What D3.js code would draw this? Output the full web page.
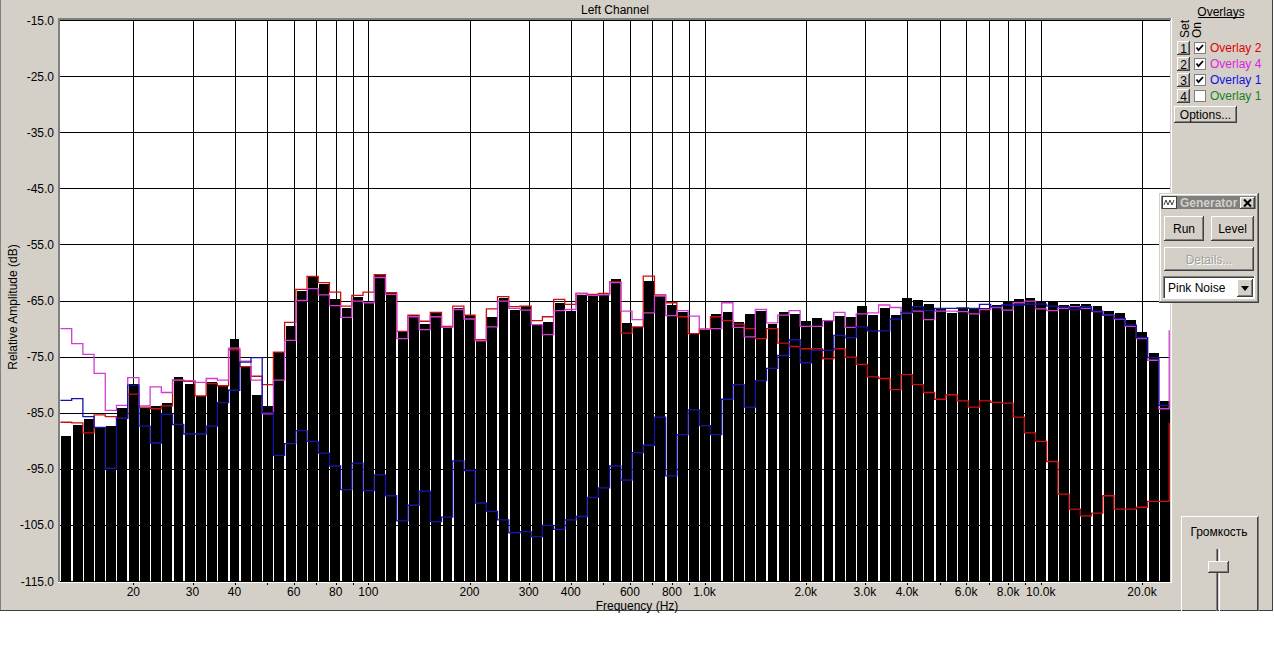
<!DOCTYPE html>
<html><head><meta charset="utf-8">
<script src="https://cdn.jsdelivr.net/npm/d3@7"></script>
<style>body{margin:0;background:#fff}svg{display:block}text{font-family:"Liberation Sans",Arial,sans-serif;font-size:12px}</style>
</head><body><svg id="c" width="1274" height="654"></svg>
<script>
// ---------- DATA ----------
// band centre frequencies (Hz), 1/30-decade bands
const bandFreqs = [12.62,13.63,14.71,15.89,17.15,18.52,
 20,21.6,23.32,25.18,27.19,29.36,31.7,34.23,36.96,39.91,43.09,46.53,50.24,54.25,58.57,63.25,68.29,73.74,79.62,85.97,92.83,100.2,108.2,116.9,126.2,136.3,147.1,158.9,171.5,185.2,
 200,216,233.2,251.8,271.9,293.6,317,342.3,369.6,399.1,430.9,465.3,502.4,542.5,585.7,632.5,682.9,737.4,796.2,859.7,928.3,1002,1082,1169,1262,1363,1471,1589,1715,1852,
 2000,2160,2332,2518,2719,2936,3170,3423,3696,3991,4309,4653,5024,5425,5857,6325,6829,7374,7962,8597,9283,10020,10820,11690,12620,13630,14710,15890,17150,18520,
 20000,21600,23320];
// measured spectrum (black bars), dB
const spectrum = [-89.2,-87.2,-86.2,-87.6,-87.4,-84.2,
 -79.8,-84.1,-83.8,-83.2,-78.6,-79.9,-82.0,-79.6,-80.2,-71.8,-76.8,-81.8,-83.8,-74.1,-69.5,-63.3,-60.8,-62.0,-64.8,-66.4,-64.3,-65.1,-60.5,-63.75,-70.6,-67.6,-69.2,-67.2,-69.9,-66.4,
 -67.5,-72.3,-67.9,-64.5,-66.7,-66.0,-69.3,-68.9,-65.4,-66.9,-64.1,-64.2,-64.0,-61.2,-69.0,-69.7,-61.5,-64.2,-65.8,-67.0,-70.9,-70.2,-67.4,-67.0,-68.8,-67.4,-66.8,-69.1,-67.0,-67.4,
 -68.6,-68.2,-68.4,-67.8,-67.9,-66.0,-67.6,-66.25,-67.6,-64.6,-64.9,-65.65,-66.4,-67.2,-66.25,-66.4,-66.4,-65.8,-65.1,-64.8,-64.6,-65.1,-65.3,-65.8,-65.65,-65.65,-66.0,-66.9,-67.3,-68.4,
 -70.65,-74.3,-82.9];
// Overlay 2 (red) – last value belongs to the band just past the right edge
const overlay2 = [-86.7,-86.8,-88.6,-85.4,-85.7,-86.0,
 -81.7,-84.0,-84.3,-83.8,-79.2,-79.4,-82.0,-79.8,-80.2,-73.8,-76.8,-78.5,-80.0,-74.2,-68.9,-63.0,-60.7,-61.8,-63.5,-66.0,-64.1,-63.5,-60.4,-63.6,-70.5,-67.6,-68.7,-67.1,-69.6,-66.0,
 -67.6,-72.0,-66.5,-64.3,-66.1,-66.0,-68.6,-67.9,-64.8,-65.7,-63.75,-63.9,-63.75,-61.7,-70.8,-69.7,-60.65,-64.0,-65.4,-67.9,-70.9,-70.1,-67.9,-68.6,-69.2,-70.0,-71.8,-70.0,-72.6,-73.2,
 -73.6,-73.6,-75.4,-73.6,-75.1,-76.4,-78.6,-78.9,-80.9,-78.2,-80.0,-81.4,-82.6,-81.8,-82.9,-84.0,-82.9,-83.15,-83.3,-85.8,-88.6,-90.1,-93.7,-99.5,-102.2,-103.4,-102.9,-99.8,-102.2,-102.2,
 -101.85,-100.8,-100.8,-86.8];
// Overlay 4 (magenta)
const overlay4 = [-70.0,-72.7,-74.6,-78.0,-84.6,-83.7,
 -78.75,-83.8,-80.4,-81.4,-79.2,-79.3,-79.6,-78.9,-79.2,-73.5,-75.8,-79.2,-85.2,-79.2,-72.1,-65.0,-62.9,-64.0,-65.9,-68.0,-65.1,-65.4,-60.9,-63.9,-71.8,-67.9,-70.2,-67.9,-69.8,-66.6,
 -68.3,-72.2,-69.7,-65.1,-66.4,-66.7,-69.3,-71.1,-66.8,-66.6,-63.75,-64.1,-64.0,-61.8,-66.9,-68.4,-67.2,-64.2,-67.7,-66.8,-67.8,-70.1,-70.0,-65.4,-69.8,-71.5,-66.6,-69.0,-67.6,-66.8,
 -69.6,-69.6,-68.6,-67.1,-69.8,-67.4,-67.2,-65.8,-66.25,-67.2,-66.9,-68.4,-66.9,-66.9,-67.0,-67.4,-66.6,-66.25,-66.7,-65.4,-65.1,-66.5,-66.8,-66.4,-66.1,-66.4,-67.0,-67.6,-68.3,-69.6,
 -71.8,-75.65,-84.3,-70.3];
// Overlay 1 (blue)
const overlay1 = [-82.8,-82.5,-85.7,-87.6,-94.9,-86.0,
 -80.1,-87.4,-90.4,-85.3,-87.1,-88.8,-88.8,-87.4,-83.2,-81.0,-76.0,-75.2,-85.0,-92.6,-90.5,-88.2,-90.1,-92.2,-94.5,-98.7,-94.0,-98.9,-96.1,-99.8,-104.3,-101.5,-99.0,-104.4,-103.6,-93.6,
 -95.3,-101.1,-102.6,-104.1,-106.4,-106.2,-107.1,-105.1,-105.8,-104.1,-103.5,-100.1,-98.4,-94.5,-97.0,-92.1,-90.8,-85.8,-96.25,-88.9,-84.5,-87.3,-88.9,-82.6,-80.0,-84.0,-79.3,-77.1,-74.8,-72.0,
 -76.1,-73.9,-73.9,-71.2,-71.6,-69.7,-70.4,-70.4,-68.3,-67.1,-66.1,-66.8,-66.4,-66.4,-66.3,-66.4,-65.7,-66.1,-65.8,-65.8,-65.65,-65.65,-66.0,-66.1,-66.6,-66.1,-66.9,-67.6,-68.2,-69.4,
 -71.6,-75.2,-83.7];
const yTicks = [-15,-25,-35,-45,-55,-65,-75,-85,-95,-105,-115];
const xGridFreqs = [20,30,40,50,60,70,80,90,100,200,300,400,500,600,700,800,900,1000,2000,3000,4000,5000,6000,7000,8000,9000,10000,20000];
const xLabelFreqs = [20,30,40,60,80,100,200,300,400,600,800,1000,2000,3000,4000,6000,8000,10000,20000];
const xLabelTexts = ["20","30","40","60","80","100","200","300","400","600","800","1.0k","2.0k","3.0k","4.0k","6.0k","8.0k","10.0k","20.0k"];
const overlayNames = ["Overlay 2","Overlay 4","Overlay 1","Overlay 1"];
const overlayColors = ["#e00000","#e020e0","#1010e0","#208020"];
const overlayOn = [true,true,true,false];

// ---------- CHART ----------
const svg = d3.select("#c");
const FACE="#d4d0c8", SHADOW="#808080", DARK="#404040";
svg.append("rect").attr("width",1274).attr("height",654).attr("fill","#fff");
svg.append("rect").attr("x",0).attr("y",0).attr("width",1273).attr("height",611).attr("fill",FACE);
function ln(x1,y1,x2,y2,c,w){svg.append("line").attr("x1",x1).attr("y1",y1).attr("x2",x2).attr("y2",y2).attr("stroke",c).attr("stroke-width",w||1).attr("shape-rendering","crispEdges");}
ln(0.5,0,0.5,611,SHADOW); ln(0,610.5,1273,610.5,DARK); ln(1272.5,0,1272.5,611,DARK);

const x = d3.scaleLog().domain([12.106,24230]).range([60,1170]);
const y = d3.scaleLinear().domain([-115,-15]).range([581,20]);

svg.append("text").attr("x",615).attr("y",14).attr("text-anchor","middle").text("Left Channel");

svg.append("rect").attr("x",60).attr("y",20).attr("width",1110).attr("height",561).attr("fill","#fff");

// grid
const grid = svg.append("g").attr("stroke","#000").attr("shape-rendering","crispEdges");
grid.selectAll(".h").data(yTicks).join("line").attr("x1",60).attr("x2",1170).attr("y1",d=>Math.round(y(d))+0.5).attr("y2",d=>Math.round(y(d))+0.5);
grid.selectAll(".v").data(xGridFreqs).join("line").attr("y1",20).attr("y2",585).attr("x1",d=>Math.round(x(d))+0.5).attr("x2",d=>Math.round(x(d))+0.5);

// band edges from scale
const cx = bandFreqs.map(f=>x(f));
const n = bandFreqs.length;
const edges = [];
edges.push(cx[0]-(cx[1]-cx[0])/2);
for(let i=1;i<n;i++) edges.push((cx[i-1]+cx[i])/2);
edges.push(cx[n-1]+(cx[n-1]-cx[n-2])/2);

svg.append("g").selectAll("rect").data(spectrum).join("rect")
  .attr("x",(d,i)=>edges[i]+1.0).attr("width",(d,i)=>edges[i+1]-edges[i]-1.3)
  .attr("y",d=>y(d)).attr("height",d=>581-y(d)).attr("fill","#000").attr("shape-rendering","crispEdges");

svg.append("clipPath").attr("id","pc").append("rect").attr("x",60).attr("y",20).attr("width",1111).attr("height",561);
function stepPts(vals){
  const pts = bandFreqs.map((f,i)=>[edges[i], y(vals[i])]);
  if(vals.length>n) pts.push([edges[n]-0.8, y(vals[n])]); else pts.push([edges[n]-0.8, y(vals[n-1])]);
  return pts;
}
const stepLine = d3.line().curve(d3.curveStepAfter);
[[overlay2,"#cc1010"],[overlay4,"#d23cd2"],[overlay1,"#1414a8"]].forEach(([v,c])=>{
  svg.append("path").attr("d",stepLine(stepPts(v))).attr("fill","none").attr("stroke",c).attr("stroke-width",1.3).attr("clip-path","url(#pc)");
});

// plot border (sunken)
ln(58,18.5,1171,18.5,SHADOW); ln(58,19.5,1171,19.5,SHADOW);
ln(58.5,18,58.5,583,SHADOW); ln(59.5,18,59.5,582,SHADOW);
ln(58,582.5,1172,582.5,"#fff"); ln(1171.5,18,1171.5,583,"#fff");

// axis labels
svg.append("g").selectAll("text").data(yTicks).join("text").attr("x",54).attr("y",d=>y(d)+4.5).attr("text-anchor","end").text(d=>d.toFixed(1));
svg.append("g").selectAll("text").data(xLabelFreqs).join("text").attr("x",d=>x(d)).attr("y",596).attr("text-anchor","middle").text((d,i)=>xLabelTexts[i]);
svg.append("text").attr("x",637).attr("y",609.5).attr("text-anchor","middle").text("Frequency (Hz)");
svg.append("text").attr("transform","translate(17,307) rotate(-90)").attr("text-anchor","middle").text("Relative Amplitude (dB)");

// ---------- RIGHT PANEL ----------
function button(x0,y0,w,h,label,opt){
  opt=opt||{};
  svg.append("rect").attr("x",x0).attr("y",y0).attr("width",w).attr("height",h).attr("fill",FACE);
  ln(x0,y0+0.5,x0+w-1,y0+0.5,"#fff"); ln(x0+0.5,y0,x0+0.5,y0+h-1,"#fff");
  ln(x0,y0+h-0.5,x0+w,y0+h-0.5,DARK); ln(x0+w-0.5,y0,x0+w-0.5,y0+h,DARK);
  ln(x0+1,y0+h-1.5,x0+w-1,y0+h-1.5,SHADOW); ln(x0+w-1.5,y0+1,x0+w-1.5,y0+h-1,SHADOW);
  if(label){
    if(opt.disabled){
      svg.append("text").attr("x",x0+w/2+1).attr("y",y0+h/2+5.5).attr("text-anchor","middle").attr("fill","#fff").text(label);
      svg.append("text").attr("x",x0+w/2).attr("y",y0+h/2+4.5).attr("text-anchor","middle").attr("fill","#a0a0a0").text(label);
    } else svg.append("text").attr("x",x0+w/2).attr("y",y0+h/2+4.5).attr("text-anchor","middle").attr("fill","#000").text(label);
  }
}
svg.append("text").attr("x",1221).attr("y",16).attr("text-anchor","middle").text("Overlays");
ln(1198,17.5,1244,17.5,"#000");
svg.append("text").attr("transform","translate(1189,38) rotate(-90)").attr("text-anchor","start").text("Set");
svg.append("text").attr("transform","translate(1201,38) rotate(-90)").attr("text-anchor","start").text("On");
overlayNames.forEach((nm,i)=>{
  const yy = 42+16*i;
  button(1177,yy-1,13,14,String(i+1));
  svg.append("rect").attr("x",1194.5).attr("y",yy+0.5).attr("width",11).attr("height",11).attr("fill","#fff").attr("stroke",SHADOW).attr("shape-rendering","crispEdges");
  if(overlayOn[i]) svg.append("path").attr("d",`M${1196.5},${yy+5.5} L${1198.5},${yy+8} L${1203},${yy+3}`).attr("fill","none").attr("stroke","#000").attr("stroke-width",1.8);
  svg.append("text").attr("x",1210).attr("y",yy+10).attr("fill",overlayColors[i]).text(nm);
});
button(1174,106,63,17,"Options...");

// Generator window
svg.append("rect").attr("x",1159).attr("y",193).attr("width",100).attr("height",110).attr("fill",FACE);
ln(1160,194.5,1257,194.5,"#fff"); ln(1160.5,194,1160.5,301,"#fff");
ln(1159,302.5,1259,302.5,DARK); ln(1258.5,193,1258.5,303,DARK);
ln(1160,301.5,1258,301.5,SHADOW); ln(1257.5,194,1257.5,302,SHADOW);
svg.append("rect").attr("x",1161).attr("y",196).attr("width",95).attr("height",13).attr("fill","#808080");
svg.append("text").attr("x",1180).attr("y",207).attr("fill",FACE).attr("font-weight","bold").text("Generator");
svg.append("rect").attr("x",1162.5).attr("y",196.5).attr("width",14).attr("height",12).attr("fill","#fff").attr("stroke","#404040");
svg.append("path").attr("d","M1164,205 L1166,200 L1168,205 L1170,200 L1172,205 L1174,200").attr("fill","none").attr("stroke","#404040").attr("stroke-width",1);
button(1240,197,15,12,"");
svg.append("path").attr("d","M1244,199.5 L1251,206.5 M1251,199.5 L1244,206.5").attr("stroke","#000").attr("stroke-width",2);
button(1164,216,40,25,"Run");
button(1211,216,43,25,"Level");
button(1164,247,90,24,"Details...",{disabled:true});
svg.append("rect").attr("x",1163).attr("y",276).attr("width",92).attr("height",23).attr("fill","#fff");
ln(1163,276.5,1255,276.5,SHADOW); ln(1163.5,276,1163.5,299,SHADOW);
ln(1164,277.5,1254,277.5,DARK); ln(1164.5,277,1164.5,298,DARK);
ln(1163,298.5,1255,298.5,"#fff"); ln(1254.5,276,1254.5,299,"#fff");
svg.append("text").attr("x",1168).attr("y",292).text("Pink Noise");
button(1237,279,16,18,"");
svg.append("path").attr("d","M1241,286 L1249,286 L1245,291 Z").attr("fill","#000");

// Volume slider panel
ln(1181,516.5,1259,516.5,"#fff"); ln(1181.5,516,1181.5,611,"#fff");
ln(1258.5,516,1258.5,611,SHADOW); ln(1257.5,517,1257.5,611,DARK);
svg.append("text").attr("x",1219).attr("y",536).attr("text-anchor","middle").text("Громкость");
ln(1216.5,549,1216.5,611,SHADOW); ln(1217.5,549,1217.5,611,DARK); ln(1219.5,549,1219.5,611,"#fff");
button(1208,561,21,12,"");
</script></body></html>
